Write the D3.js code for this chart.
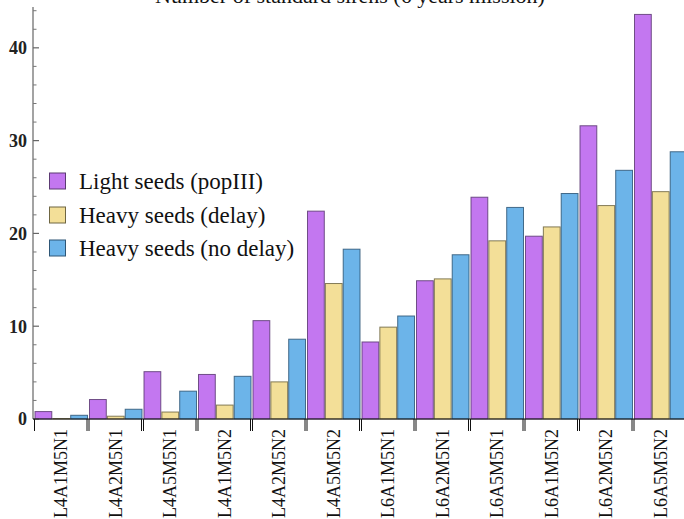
<!DOCTYPE html>
<html>
<head>
<meta charset="utf-8">
<script src="https://cdn.jsdelivr.net/npm/d3@7"></script>
<style>
  html, body { margin: 0; padding: 0; background: #fff; }
  svg { display: block; font-family: "Liberation Serif", "Times New Roman", serif; }
</style>
</head>
<body>
<svg id="chart" width="684" height="519"></svg>
<script>
// Scenario names (one group of bars per scenario)
const categories = ["L4A1M5N1", "L4A2M5N1", "L4A5M5N1", "L4A1M5N2", "L4A2M5N2", "L4A5M5N2",
                    "L6A1M5N1", "L6A2M5N1", "L6A5M5N1", "L6A1M5N2", "L6A2M5N2", "L6A5M5N2"];
const seriesNames = ["Light seeds (popIII)", "Heavy seeds (delay)", "Heavy seeds (no delay)"];

// Expected number of standard sirens per seed model
const lightSeeds   = [0.8, 2.1, 5.1, 4.8, 10.6, 22.4, 8.3, 14.9, 23.9, 19.7, 31.6, 43.6];
const heavyDelay   = [0.05, 0.3, 0.75, 1.5, 4.0, 14.6, 9.9, 15.1, 19.2, 20.7, 23.0, 24.5];
const heavyNoDelay = [0.4, 1.05, 3.0, 4.6, 8.6, 18.3, 11.1, 17.7, 22.8, 24.3, 26.8, 28.8];

const yTicks = [0, 10, 20, 30, 40];
const titleText = "Number of standard sirens (6 years mission)";

const series = [lightSeeds, heavyDelay, heavyNoDelay];
const fills   = ["#c377f0", "#f3df98", "#6cb4e9"];
const strokes = ["#5c3a73", "#6f6642", "#2e5676"];

const svg = d3.select("#chart");

const x0 = 34, x1 = 688, yTop = 7, yZero = 419;

const xGroup = d3.scaleBand().domain(categories).range([x0, x1]).padding(0);
const xBar = d3.scaleBand().domain(d3.range(series.length))
  .range([1, xGroup.bandwidth() - 1]).paddingInner(0.06);
const y = d3.scaleLinear().domain([0, 44.4]).range([yZero, yTop]);

// Bars
const groups = svg.append("g").selectAll("g")
  .data(categories)
  .join("g")
  .attr("transform", d => `translate(${xGroup(d)},0)`);

groups.selectAll("rect")
  .data((d, i) => series.map((s, k) => ({ k, v: s[i] })))
  .join("rect")
  .attr("x", d => xBar(d.k))
  .attr("width", xBar.bandwidth())
  .attr("y", d => y(d.v))
  .attr("height", d => yZero - y(d.v))
  .attr("fill", d => fills[d.k])
  .attr("stroke", d => strokes[d.k])
  .attr("stroke-opacity", 0.85)
  .attr("stroke-width", 1);

// Y axis: major ticks with labels, minor ticks every 2
const yAxis = svg.append("g").attr("transform", `translate(${x0 - 1},0)`);
yAxis.append("line")
  .attr("x1", 0).attr("x2", 0)
  .attr("y1", y.range()[1]).attr("y2", yZero)
  .attr("stroke", "#666").attr("stroke-width", 1.2);

const minor = d3.range(0, 45, 2).filter(v => v % 10 !== 0);
yAxis.selectAll(".minor").data(minor).join("line")
  .attr("x1", 0).attr("x2", 3.5)
  .attr("y1", d => y(d)).attr("y2", d => y(d))
  .attr("stroke", "#777").attr("stroke-width", 1);

yAxis.selectAll(".major").data(yTicks).join("line")
  .attr("x1", 0).attr("x2", 6)
  .attr("y1", d => y(d)).attr("y2", d => y(d))
  .attr("stroke", "#666").attr("stroke-width", 1.2);

yAxis.selectAll("text").data(yTicks).join("text")
  .attr("x", -6)
  .attr("y", d => y(d))
  .attr("dy", "0.35em")
  .attr("text-anchor", "end")
  .attr("font-size", 18)
  .attr("font-weight", "bold")
  .attr("fill", "#222")
  .text(d => d);

// X axis line at zero
svg.append("line")
  .attr("x1", x0 - 1).attr("x2", 684)
  .attr("y1", yZero).attr("y2", yZero)
  .attr("stroke", "#111").attr("stroke-width", 1.2);

// Group separators (a tick on each side of every group)
categories.forEach(c => {
  const left = xGroup(c), right = xGroup(c) + xGroup.bandwidth();
  [left + 0.5, right - 1.5].forEach(px => {
    svg.append("line")
      .attr("x1", px).attr("x2", px)
      .attr("y1", yZero).attr("y2", yZero + 12)
      .attr("stroke", "#111").attr("stroke-width", 1);
  });
});

// Group labels, rotated
svg.append("g").selectAll("text")
  .data(categories)
  .join("text")
  .attr("transform", d => `translate(${xGroup(d) + xGroup.bandwidth() / 2},${yZero + 10}) rotate(-90)`)
  .attr("text-anchor", "end")
  .attr("dy", "0.33em")
  .attr("font-size", 18)
  .attr("fill", "#111")
  .text(d => d);

// Title
svg.append("text")
  .attr("x", 350).attr("y", 3)
  .attr("text-anchor", "middle")
  .attr("font-size", 22)
  .attr("fill", "#111")
  .text(titleText);

// Legend
const legend = svg.append("g");
const rowY = [181, 215, 248];
seriesNames.forEach((name, k) => {
  legend.append("rect")
    .attr("x", 49.5).attr("y", rowY[k] - 8)
    .attr("width", 16).attr("height", 16)
    .attr("fill", fills[k]).attr("stroke", strokes[k]).attr("stroke-width", 1);
  legend.append("text")
    .attr("x", 79).attr("y", rowY[k])
    .attr("dy", "0.35em")
    .attr("font-size", 23)
    .attr("fill", "#111")
    .text(name);
});
</script>
</body>
</html>
